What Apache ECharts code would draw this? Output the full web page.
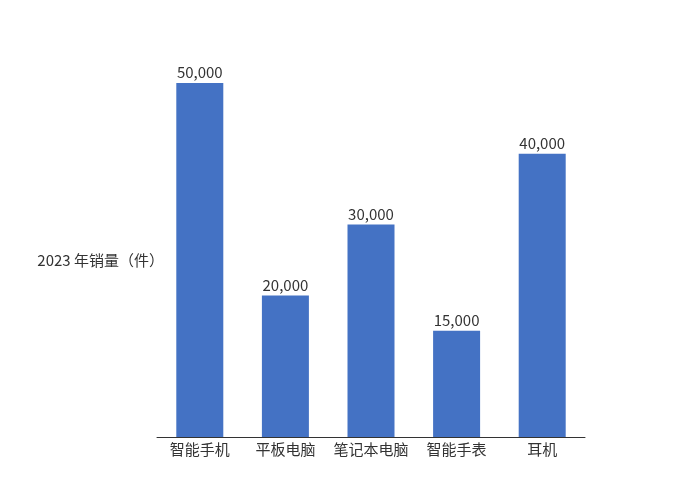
<!DOCTYPE html>
<html><head><meta charset="utf-8">
<script src="https://cdn.jsdelivr.net/npm/echarts@6/dist/echarts.min.js"></script>
<style>html,body{margin:0;padding:0;background:#fff}#c{width:680px;height:477px}</style>
</head><body><div id="c"></div>
<script>
const categories = ['智能手机','平板电脑','笔记本电脑','智能手表','耳机'];
const sales = [50000, 20000, 30000, 15000, 40000];
const yName = '2023 年销量（件）';

const chart = echarts.init(document.getElementById('c'), null, {renderer:'canvas'});
chart.setOption({
  animation:false,
  textStyle:{fontFamily:'"Noto Sans CJK SC","Noto Sans",sans-serif'},
  grid:{left:157,right:95,top:83,bottom:40},
  xAxis:{type:'category',data:categories,
    axisLine:{lineStyle:{color:'#333',width:1}},
    axisTick:{show:false},
    axisLabel:{color:'#333',fontSize:15,margin:5,interval:0}},
  yAxis:{type:'value',min:0,max:50000,
    name:yName,nameLocation:'middle',nameRotate:0,nameGap:-7,
    nameTextStyle:{color:'#333',fontSize:15,align:'right'},
    axisLine:{show:false},axisTick:{show:false},axisLabel:{show:false},splitLine:{show:false}},
  series:[{type:'bar',data:sales,barWidth:47,
    itemStyle:{color:'#4472C4'},
    label:{show:true,position:'top',distance:3,color:'#333',fontSize:15,
      formatter:p=>p.value.toLocaleString('en-US')}}]
});
</script></body></html>
